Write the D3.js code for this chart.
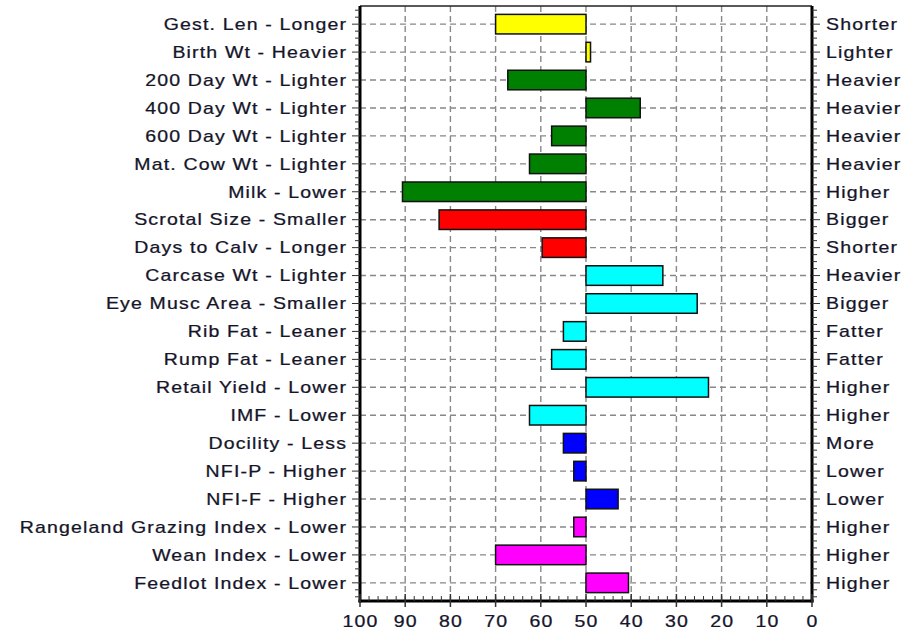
<!DOCTYPE html>
<html><head><meta charset="utf-8">
<script src="https://cdn.jsdelivr.net/npm/d3@7"></script>
<style>body{margin:0;background:#fff}svg{display:block}</style>
</head><body><svg id="c" width="917" height="632"></svg>
<script>
const leftLabels = ["Gest. Len - Longer","Birth Wt - Heavier","200 Day Wt - Lighter","400 Day Wt - Lighter","600 Day Wt - Lighter","Mat. Cow Wt - Lighter","Milk - Lower","Scrotal Size - Smaller","Days to Calv - Longer","Carcase Wt - Lighter","Eye Musc Area - Smaller","Rib Fat - Leaner","Rump Fat - Leaner","Retail Yield - Lower","IMF - Lower","Docility - Less","NFI-P - Higher","NFI-F - Higher","Rangeland Grazing Index - Lower","Wean Index - Lower","Feedlot Index - Lower"];
const rightLabels = ["Shorter","Lighter","Heavier","Heavier","Heavier","Heavier","Higher","Bigger","Shorter","Heavier","Bigger","Fatter","Fatter","Higher","Higher","More","Lower","Lower","Higher","Higher","Higher"];
const values = [70,49,67.3,38,57.6,62.5,90.6,82.5,59.7,33,25.4,55,57.6,22.9,62.5,55,52.7,42.9,52.7,70,40.6];
const colors = ["#ffff00","#ffff00","#008000","#008000","#008000","#008000","#008000","#ff0000","#ff0000","#00ffff","#00ffff","#00ffff","#00ffff","#00ffff","#00ffff","#0000ff","#0000ff","#0000ff","#ff00ff","#ff00ff","#ff00ff"];
const xTicks = [100,90,80,70,60,50,40,30,20,10,0];
const baseline = 50;

const svg = d3.select("#c");
const L = 360, R = 812, T = 6, B = 601;
const x = d3.scaleLinear().domain([100,0]).range([L,R]);
const y = d3.scaleBand().domain(d3.range(leftLabels.length)).range([T,B]).paddingInner(0.3).paddingOuter(0.3);
const cy = i => y(i) + y.bandwidth()/2;

svg.append("rect").attr("x",L).attr("y",T).attr("width",R-L).attr("height",B-T).attr("fill","#fff");

// grid
const g = svg.append("g").attr("stroke","#888").attr("stroke-width",1.4).attr("stroke-dasharray","6,4");
g.selectAll(".v").data(xTicks.filter(d=>d>0&&d<100)).join("line")
  .attr("x1",d=>x(d)).attr("x2",d=>x(d)).attr("y1",T).attr("y2",B);
g.selectAll(".h").data(d3.range(leftLabels.length)).join("line")
  .attr("x1",L).attr("x2",R).attr("y1",cy).attr("y2",cy);

// bars
svg.selectAll(".bar").data(values).join("rect")
  .attr("x",d=>Math.min(x(d),x(baseline)))
  .attr("width",d=>Math.abs(x(d)-x(baseline)))
  .attr("y",(d,i)=>y(i)).attr("height",y.bandwidth())
  .attr("fill",(d,i)=>colors[i]).attr("stroke","#111").attr("stroke-width",1.5);

// frame
svg.append("line").attr("x1",L).attr("x2",R).attr("y1",T).attr("y2",T).attr("stroke","#222").attr("stroke-width",1.5);
svg.append("line").attr("x1",L).attr("x2",L).attr("y1",T).attr("y2",B+1.5).attr("stroke","#000").attr("stroke-width",3);
svg.append("line").attr("x1",R).attr("x2",R).attr("y1",T).attr("y2",B+1.5).attr("stroke","#000").attr("stroke-width",3);
svg.append("line").attr("x1",L-1.5).attr("x2",R+1.5).attr("y1",B).attr("y2",B).attr("stroke","#000").attr("stroke-width",3);

// left/right axis ticks
const step = y.step();
const minorY = [];
for (let i=0;i<leftLabels.length;i++){ for(let k=1;k<4;k++){ const v=cy(i)+k*step/4; if(v<B) minorY.push(v);} }
for (let k=1;k<4;k++){ const v=cy(0)-k*step/4; if(v>T) minorY.push(v);}
const tk = svg.append("g").attr("stroke","#333").attr("stroke-width",1);
tk.selectAll(".lm").data(d3.range(leftLabels.length)).join("line").attr("x1",L-8).attr("x2",L).attr("y1",cy).attr("y2",cy);
tk.selectAll(".lmn").data(minorY).join("line").attr("x1",L-5).attr("x2",L).attr("y1",d=>d).attr("y2",d=>d);
tk.selectAll(".rm").data(d3.range(leftLabels.length)).join("line").attr("x1",R).attr("x2",R+8).attr("y1",cy).attr("y2",cy);
tk.selectAll(".rmn").data(minorY).join("line").attr("x1",R).attr("x2",R+5).attr("y1",d=>d).attr("y2",d=>d);

// bottom ticks
const minorX = d3.range(0,101,2).filter(d=>d%10!==0);
tk.selectAll(".bm").data(xTicks).join("line").attr("x1",d=>x(d)).attr("x2",d=>x(d)).attr("y1",B-7).attr("y2",B+6).attr("stroke-width",1.5);
tk.selectAll(".bmn").data(minorX).join("line").attr("x1",d=>x(d)).attr("x2",d=>x(d)).attr("y1",B-5).attr("y2",B);

// labels (horizontally stretched glyphs like the reference rendering)
const font = "Liberation Sans, Arial, sans-serif";
const sx = 1.22, ls = 0.95, col = "#15152a";
function label(sel, data, px, py, anchor, shift){
  const gg = sel.selectAll(null).data(data).join("g")
    .attr("transform",(d,i)=>`translate(${px(d,i)+shift},${py(d,i)}) scale(${sx},1)`);
  gg.append("text").attr("text-anchor",anchor).attr("dy","0.36em")
    .attr("font-family",font).attr("font-size",16).attr("letter-spacing",ls)
    .attr("fill",col).attr("stroke",col).attr("stroke-width",0.25).text(d=>d);
}
label(svg, leftLabels, ()=>346, (d,i)=>cy(i), "end", ls*sx);
label(svg, rightLabels, ()=>826, (d,i)=>cy(i), "start", 0);
label(svg, xTicks, d=>x(d), ()=>621, "middle", ls*sx/2);
</script></body></html>
